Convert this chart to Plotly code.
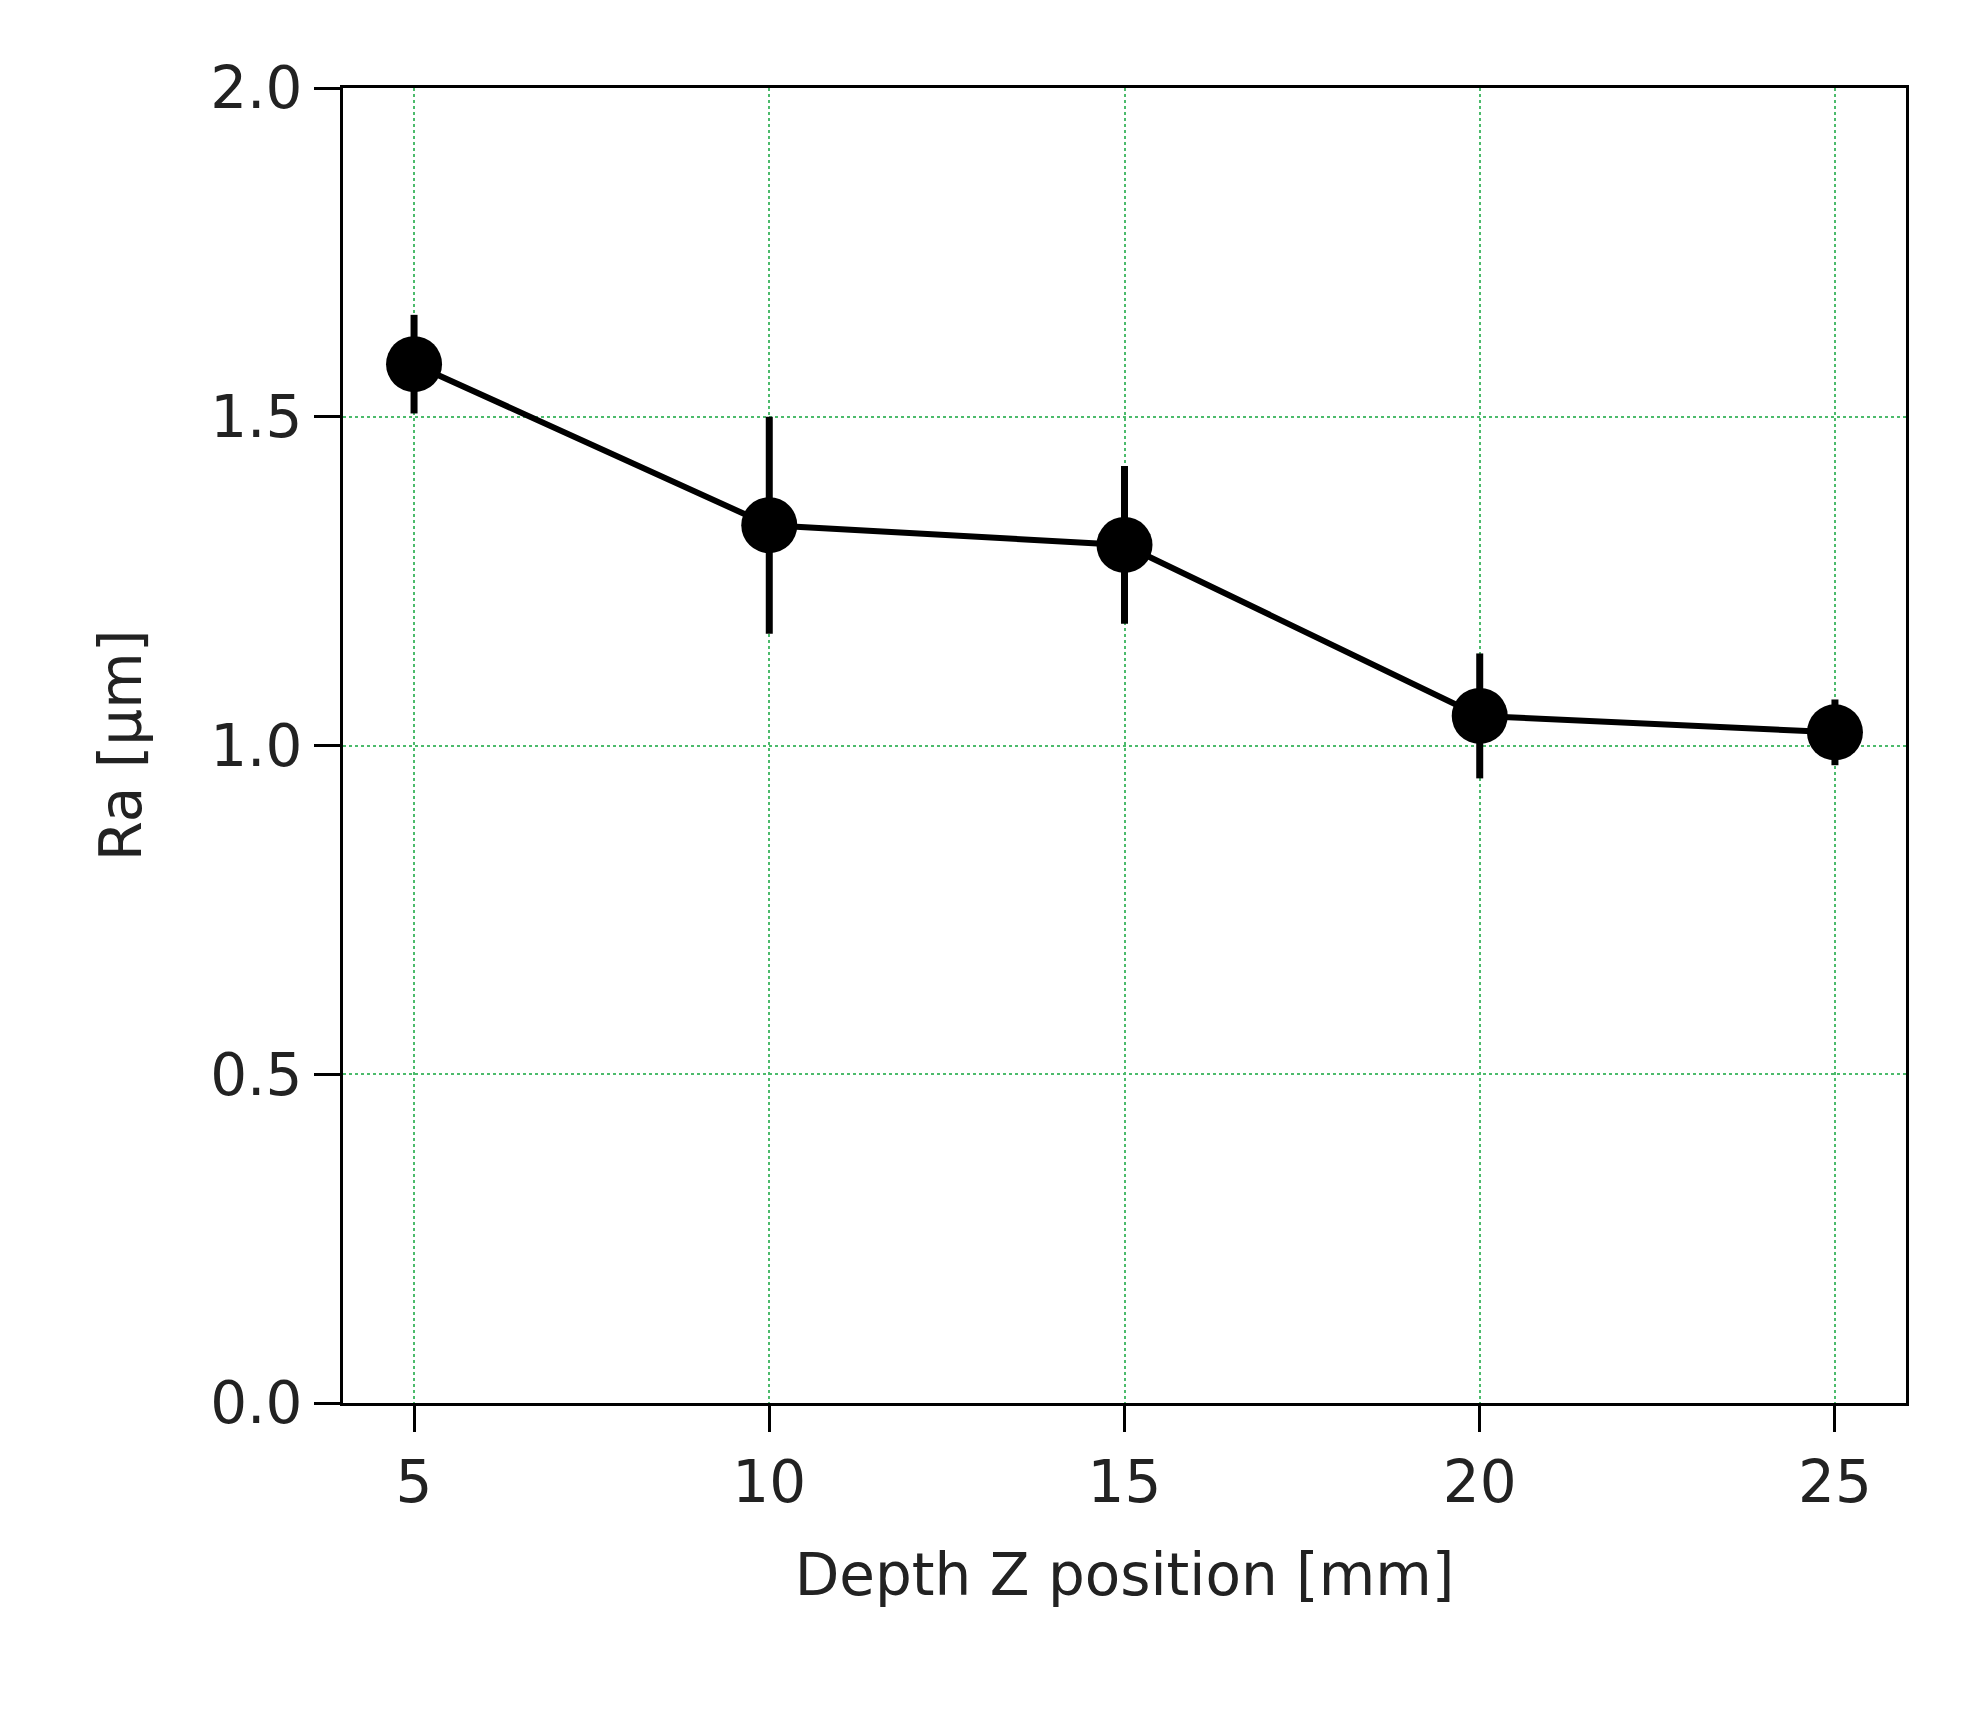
import plotly.graph_objects as go

depth = [5, 10, 15, 20, 25]
ra = [1.58, 1.335, 1.305, 1.045, 1.02]
err = [0.075, 0.165, 0.12, 0.095, 0.05]
x_ticks = [5, 10, 15, 20, 25]
y_ticks = [0.0, 0.5, 1.0, 1.5, 2.0]

fig = go.Figure(go.Scatter(
    x=depth, y=ra, mode="lines+markers",
    line=dict(color="black", width=6),
    marker=dict(color="black", size=56),
    error_y=dict(type="data", array=err, color="black", thickness=7, width=0),
))
font = dict(family="DejaVu Sans", size=58, color="#222")
axis = dict(showline=True, linecolor="black", linewidth=3, mirror=True,
            ticks="outside", ticklen=26, tickwidth=3, tickcolor="black",
            showgrid=True, gridcolor="#4cbb6c", griddash="dot", gridwidth=2,
            zeroline=False, tickfont=font)
fig.update_layout(
    width=1971, height=1710, plot_bgcolor="white", paper_bgcolor="white",
    margin=dict(l=335, r=73, t=80, b=315), showlegend=False,
    xaxis=dict(range=[4, 26], tickvals=x_ticks,
               title=dict(text="Depth Z position [mm]", font=font, standoff=40), **axis),
    yaxis=dict(range=[0, 2], tickvals=y_ticks, tickformat=".1f",
               title=dict(text="Ra [µm]", font=font, standoff=50), **axis),
)
fig.write_html("out.html")
